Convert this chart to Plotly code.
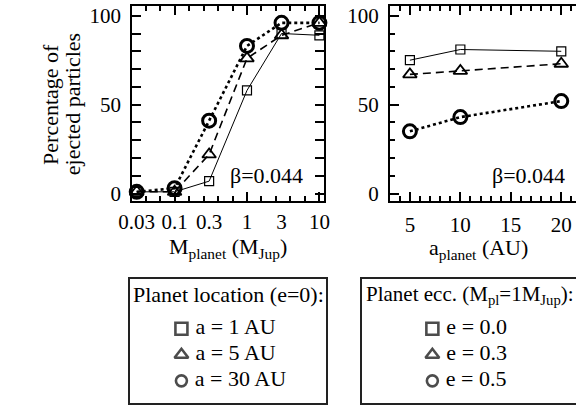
import plotly.graph_objects as go

W, H = 582, 409
FONT = "Liberation Serif, Times New Roman, Times, serif"
FS = 22
TICK_FS = 21

# Left panel: ejection fraction vs. planet mass for three planet locations
mass = [0.03, 0.1, 0.3, 1, 3, 10]
mass_labels = ["0.03", "0.1", "0.3", "1", "3", "10"]
pct_a1 = [1, 1, 7, 58, 90, 89]
pct_a5 = [1, 1, 22, 76, 89, 96]
pct_a30 = [1, 3, 41, 83, 96, 96]

# Right panel: ejection fraction vs. planet semi-major axis for three eccentricities
a_planet = [5, 10, 20]
pct_e00 = [75, 81, 80]
pct_e03 = [67, 69, 73]
pct_e05 = [35, 43, 52]

beta_label = "β=0.044"
loc_title = "Planet location (e=0):"
loc_labels = ["a = 1 AU", "a = 5 AU", "a = 30 AU"]
ecc_title = "Planet ecc. (M<sub>pl</sub>=1M<sub>Jup</sub>):"
ecc_labels = ["e = 0.0", "e = 0.3", "e = 0.5"]


def px_x(p):
    return p / W


def px_y(p):
    return 1 - p / H


styles = [
    dict(line=dict(color="black", width=1),
         marker=dict(symbol="square-open", size=9, color="black",
                     line=dict(color="black", width=1.2))),
    dict(line=dict(color="black", width=1.6, dash="8px,5px"),
         marker=dict(symbol="triangle-up-open", size=12, color="black",
                     line=dict(color="black", width=1.8))),
    dict(line=dict(color="black", width=2.6, dash="dot"),
         marker=dict(symbol="circle-open", size=13, color="black",
                     line=dict(color="black", width=3))),
]
key_symbols = ["square-open", "triangle-up-open", "circle-open"]
key_sizes = [12, 12, 11]

fig = go.Figure()

# the last (circle) series goes on the overlaid label axis so it sits on top
left_axes = ["x", "x", "x3"]
for ys, st, xa in zip([pct_a1, pct_a5, pct_a30], styles, left_axes):
    fig.add_trace(go.Scatter(x=mass, y=ys, mode="lines+markers", xaxis=xa, yaxis="y",
                             showlegend=False, cliponaxis=False, **st))

for ys, st in zip([pct_e00, pct_e03, pct_e05], styles):
    fig.add_trace(go.Scatter(x=a_planet, y=ys, mode="lines+markers", xaxis="x2", yaxis="y2",
                             showlegend=False, cliponaxis=False, **st))

# Key boxes drawn as small framed subplots
for labels, xa, ya in [(loc_labels, "x4", "y4"), (ecc_labels, "x5", "y5")]:
    fig.add_trace(go.Scatter(
        x=[0] * len(labels), y=list(range(len(labels))), xaxis=xa, yaxis=ya,
        mode="markers+text", text=["\u00a0" + t for t in labels], textposition="middle right",
        textfont=dict(family=FONT, size=FS, color="black"),
        marker=dict(symbol=key_symbols, size=key_sizes, color="black",
                    line=dict(color="black", width=2.6)),
        showlegend=False, cliponaxis=False, hoverinfo="skip"))

frame = dict(showline=True, linecolor="black", linewidth=2, showgrid=False, zeroline=False,
             ticks="inside", tickcolor="black", tickwidth=1.5,
             tickfont=dict(family=FONT, size=TICK_FS, color="black"))

y_dom = [px_y(202), px_y(4)]
y_rng = [-3.9, 105.5]
x_log_rng = [-1.584, 1.063]

fig.update_layout(
    width=W, height=H, margin=dict(l=0, r=0, t=0, b=0),
    paper_bgcolor="white", plot_bgcolor="white",
    font=dict(family=FONT, size=FS, color="black"),
    showlegend=False,
    xaxis=dict(domain=[px_x(122.5), px_x(321)], anchor="y", type="log",
               range=x_log_rng, mirror="allticks",
               tickvals=[0.1, 1, 10], ticklen=9, showticklabels=False,
               minor=dict(ticks="inside", ticklen=5, tickwidth=1.5, tickcolor="black",
                          tickvals=[10 ** (e / 5) for e in range(-8, 6) if e % 5]),
               **frame),
    xaxis3=dict(overlaying="x", anchor="y", type="log", range=x_log_rng,
                tickvals=mass, ticktext=mass_labels, ticks="", showline=False,
                showgrid=False, zeroline=False, ticklabelstandoff=6,
                tickfont=dict(family=FONT, size=TICK_FS, color="black")),
    yaxis=dict(domain=y_dom, anchor="x", range=y_rng, mirror="allticks",
               tickvals=[0, 50, 100], ticklen=9, ticklabelstandoff=5,
               minor=dict(ticks="inside", ticklen=5, tickwidth=1.5, tickcolor="black",
                          dtick=10, tick0=0),
               **frame),
    xaxis2=dict(domain=[px_x(389.3), 1], anchor="y2", range=[3.02, 21.46],
                mirror="allticks", tickvals=[5, 10, 15, 20], ticklen=9,
                ticklabelstandoff=4,
                minor=dict(ticks="inside", ticklen=5, tickwidth=1.5, tickcolor="black",
                           dtick=1, tick0=0),
                **frame),
    yaxis2=dict(domain=y_dom, anchor="x2", range=y_rng, mirror=False,
                tickvals=[0, 50, 100], ticklen=9, ticklabelstandoff=5,
                minor=dict(ticks="inside", ticklen=5, tickwidth=1.5, tickcolor="black",
                           dtick=10, tick0=0),
                **frame),
)

box = dict(showline=True, linecolor="#222", linewidth=1.5, showgrid=False, zeroline=False,
           ticks="", showticklabels=False, fixedrange=True)
key_dom = [px_y(408), px_y(282)]
key_rng = [2.85, -1.9]
fig.update_layout(
    xaxis4=dict(domain=[px_x(120), px_x(323)], anchor="y4", range=[-0.263, 0.737],
                mirror=True, **box),
    yaxis4=dict(domain=key_dom, anchor="x4", range=key_rng, mirror=True, **box),
    xaxis5=dict(domain=[px_x(360), 1], anchor="y5", range=[-0.33, 0.67],
                mirror=True, **box),
    yaxis5=dict(domain=key_dom, anchor="x5", range=key_rng, mirror=False, **box),
)

ann = []
ann.append(dict(text=beta_label, x=px_x(262), y=px_y(177), xref="paper", yref="paper",
                showarrow=False, xanchor="center", yanchor="middle"))
ann.append(dict(text=beta_label, x=px_x(532.5), y=px_y(177), xref="paper", yref="paper",
                showarrow=False, xanchor="center", yanchor="middle"))
ann.append(dict(text="M<sub>planet</sub> (M<sub>Jup</sub>)", x=px_x(222), y=px_y(250),
                xref="paper", yref="paper", showarrow=False, xanchor="center", yanchor="middle"))
ann.append(dict(text="a<sub>planet</sub> (AU)", x=px_x(481), y=px_y(251),
                xref="paper", yref="paper", showarrow=False, xanchor="center", yanchor="middle"))
ann.append(dict(text="Percentage of", x=px_x(37), y=px_y(104), xref="paper", yref="paper",
                showarrow=False, textangle=-90, xanchor="center", yanchor="middle"))
ann.append(dict(text="ejected particles", x=px_x(60), y=px_y(104), xref="paper", yref="paper",
                showarrow=False, textangle=-90, xanchor="center", yanchor="middle"))
ann.append(dict(text=loc_title, x=px_x(222), y=px_y(298), xref="paper", yref="paper",
                showarrow=False, xanchor="center", yanchor="middle"))
ann.append(dict(text=ecc_title, x=px_x(362), y=px_y(298), xref="paper", yref="paper",
                showarrow=False, xanchor="left", yanchor="middle",
                font=dict(family=FONT, size=21, color="black")))
fig.update_layout(annotations=ann)

fig.write_html("out.html")
